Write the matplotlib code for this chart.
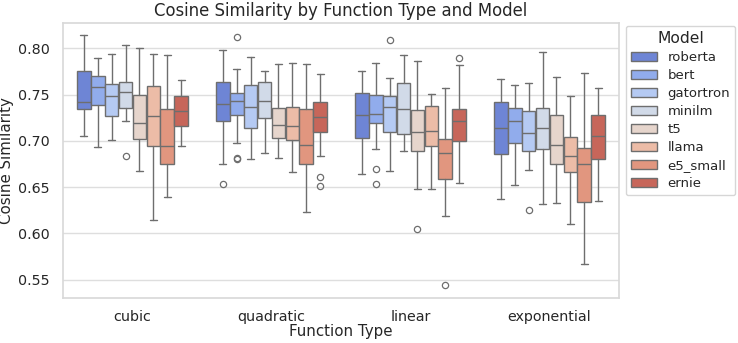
import matplotlib
matplotlib.use("Agg")
import matplotlib.pyplot as plt
from matplotlib.patches import Patch
import seaborn as sns

# categories
functions = ["cubic", "quadratic", "linear", "exponential"]
models = ["roberta", "bert", "gatortron", "minilm", "t5", "llama", "e5_small", "ernie"]

# box statistics, one row per function type
medians = [
    [0.742, 0.758, 0.749, 0.753, 0.719, 0.727, 0.694, 0.732],
    [0.740, 0.743, 0.737, 0.743, 0.717, 0.716, 0.696, 0.726],
    [0.728, 0.729, 0.737, 0.734, 0.710, 0.711, 0.687, 0.721],
    [0.714, 0.721, 0.708, 0.714, 0.696, 0.684, 0.675, 0.705],
]
q1 = [
    [0.734, 0.739, 0.727, 0.736, 0.702, 0.695, 0.675, 0.716],
    [0.722, 0.728, 0.714, 0.725, 0.703, 0.701, 0.675, 0.710],
    [0.703, 0.719, 0.710, 0.707, 0.689, 0.694, 0.659, 0.700],
    [0.686, 0.698, 0.689, 0.691, 0.675, 0.666, 0.634, 0.680],
]
q3 = [
    [0.775, 0.770, 0.761, 0.764, 0.750, 0.759, 0.734, 0.749],
    [0.764, 0.752, 0.760, 0.764, 0.736, 0.737, 0.734, 0.742],
    [0.752, 0.750, 0.748, 0.763, 0.733, 0.738, 0.702, 0.734],
    [0.742, 0.736, 0.732, 0.735, 0.728, 0.704, 0.692, 0.728],
]
whis_low = [
    [0.705, 0.693, 0.701, 0.722, 0.668, 0.615, 0.639, 0.694],
    [0.675, 0.698, 0.680, 0.687, 0.682, 0.666, 0.623, 0.684],
    [0.664, 0.691, 0.667, 0.689, 0.648, 0.648, 0.619, 0.655],
    [0.637, 0.652, 0.669, 0.632, 0.633, 0.610, 0.567, 0.635],
]
whis_high = [
    [0.814, 0.789, 0.794, 0.804, 0.800, 0.794, 0.793, 0.766],
    [0.798, 0.778, 0.791, 0.776, 0.783, 0.784, 0.783, 0.772],
    [0.776, 0.784, 0.768, 0.793, 0.786, 0.751, 0.757, 0.782],
    [0.767, 0.760, 0.762, 0.796, 0.769, 0.749, 0.773, 0.757],
]
# outliers: (function index, model index) -> values
outliers = {
    (0, 3): [0.6835],
    (1, 0): [0.653],
    (1, 1): [0.8126, 0.682, 0.680],
    (1, 7): [0.661, 0.651],
    (2, 1): [0.670, 0.653],
    (2, 2): [0.8086],
    (2, 4): [0.605],
    (2, 6): [0.544],
    (2, 7): [0.789],
    (3, 2): [0.625],
}

sns.set_theme(style="whitegrid")
plt.rcParams["font.family"] = ["DejaVu Sans"]

palette = [sns.desaturate(c, 0.75) for c in sns.color_palette("coolwarm", len(models))]
line_gray = "#6e6e6e"

fig = plt.figure(figsize=(7.38, 3.43), dpi=100)
ax = fig.add_axes([0.0854, 0.1312, 0.7534, 0.8017])

n = len(models)
box_w = 0.8 / n
for i in range(len(functions)):
    for j in range(n):
        stats = [{
            "med": medians[i][j], "q1": q1[i][j], "q3": q3[i][j],
            "whislo": whis_low[i][j], "whishi": whis_high[i][j],
            "fliers": outliers.get((i, j), []),
        }]
        pos = i + (j - (n - 1) / 2) * box_w
        ax.bxp(stats, positions=[pos], widths=box_w * 0.98, patch_artist=True,
               showfliers=True, manage_ticks=False,
               boxprops=dict(facecolor=palette[j], edgecolor=line_gray, linewidth=1.0),
               medianprops=dict(color=line_gray, linewidth=1.0),
               whiskerprops=dict(color=line_gray, linewidth=1.0),
               capprops=dict(color=line_gray, linewidth=1.0),
               flierprops=dict(marker="o", markerfacecolor="none",
                               markeredgecolor=line_gray, markersize=4.5,
                               markeredgewidth=0.9))

ax.set_xlim(-0.5, len(functions) - 0.5)
ax.set_ylim(0.5303, 0.8273)
ax.set_xticks(range(len(functions)))
ax.set_xticklabels(functions)
ax.set_yticks([0.55, 0.60, 0.65, 0.70, 0.75, 0.80])
ax.set_yticklabels(["0.55", "0.60", "0.65", "0.70", "0.75", "0.80"])
ax.tick_params(axis="both", labelsize=10.3, colors="#262626")
ax.tick_params(axis="x", pad=3)
ax.xaxis.grid(False)
ax.yaxis.grid(True, color="#dedede", linewidth=1.0)
for s in ax.spines.values():
    s.set_color("#d9d9d9")

ax.set_title("Cosine Similarity by Function Type and Model", fontsize=11.9, color="#262626", pad=5)
ax.set_xlabel("Function Type", fontsize=10.8, color="#262626", labelpad=0)
ax.set_ylabel("Cosine Similarity", fontsize=10.8, color="#262626", labelpad=3)

handles = [Patch(facecolor=palette[j], edgecolor=line_gray, label=m) for j, m in enumerate(models)]
leg = ax.legend(handles=handles, title="Model", loc="upper left",
                bbox_to_anchor=(1.012, 0.99), fontsize=9.5, title_fontsize=11.2,
                frameon=True, borderaxespad=0, labelspacing=0.38,
                handlelength=2.0, handleheight=0.6, handletextpad=0.75,
                borderpad=0.4)

fig.savefig("out.png", dpi=100)
